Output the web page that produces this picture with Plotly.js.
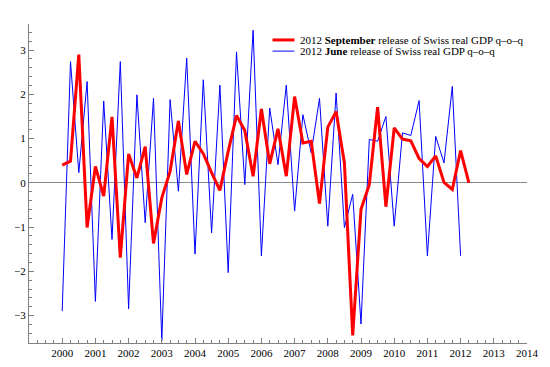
<!DOCTYPE html>
<html>
<head>
<meta charset="utf-8">
<script src="https://cdn.plot.ly/plotly-3.0.1.min.js"></script>
<style>
  html, body { margin: 0; padding: 0; background: #ffffff; }
  #chart { width: 550px; height: 367px; }
</style>
</head>
<body>
<div id="chart"></div>
<script>
// Quarterly data, first quarter = 2000 Q1
const startYear = 2000;

// 2012 June release of Swiss real GDP q-o-q (2000Q1 .. 2012Q1)
const juneRelease = [
  -2.90, 2.74, 0.23, 2.29,
  -2.68, 1.85, -1.28, 2.74,
  -2.85, 1.99, -0.90, 1.91,
  -3.57, 1.88, -0.19, 2.82,
  -1.61, 2.33, -1.13, 2.21,
  -2.03, 2.96, -0.04, 3.45,
  -1.65, 1.69, 0.41, 2.21,
  -0.64, 1.54, 0.68, 1.91,
  -0.98, 2.03, -1.01, -0.26,
  -3.19, 0.98, 0.94, 1.50,
  -0.98, 1.13, 1.07, 1.86,
  -1.65, 1.05, 0.45, 2.18,
  -1.65
];

// 2012 September release of Swiss real GDP q-o-q (2000Q1 .. 2012Q2)
const septemberRelease = [
  0.40, 0.49, 2.90, -1.01,
  0.37, -0.30, 1.49, -1.69,
  0.65, 0.11, 0.82, -1.37,
  -0.34, 0.26, 1.40, 0.19,
  0.94, 0.66, 0.23, -0.17,
  0.71, 1.52, 1.18, 0.15,
  1.67, 0.43, 1.22, 0.15,
  1.95, 0.90, 0.94, -0.47,
  1.26, 1.61, 0.45, -3.45,
  -0.60, -0.04, 1.71, -0.54,
  1.24, 0.99, 0.95, 0.55,
  0.37, 0.61, 0.01, -0.15,
  0.73, 0.00
];

const xTickYears = [2000, 2001, 2002, 2003, 2004, 2005, 2006, 2007, 2008, 2009, 2010, 2011, 2012, 2013, 2014];
const yTickValues = [-3, -2, -1, 0, 1, 2, 3];

const septemberLabel = '2012 <b>September</b> release of Swiss real GDP q\u2013o\u2013q';
const juneLabel = '2012 <b>June</b> release of Swiss real GDP q\u2013o\u2013q';

function quarterPositions(n) {
  const xs = [];
  for (let i = 0; i < n; i++) xs.push(startYear + i / 4);
  return xs;
}

const serif = 'Liberation Serif, Times New Roman, serif';

const traces = [
  {
    x: quarterPositions(juneRelease.length),
    y: juneRelease,
    type: 'scatter',
    mode: 'lines',
    name: juneLabel,
    line: { color: '#0000ff', width: 1 },
    showlegend: false
  },
  {
    x: quarterPositions(septemberRelease.length),
    y: septemberRelease,
    type: 'scatter',
    mode: 'lines',
    name: septemberLabel,
    line: { color: '#ff0000', width: 3 },
    showlegend: false
  }
];

const axisCommon = {
  showline: true,
  linecolor: '#7f7f7f',
  linewidth: 1,
  ticks: 'inside',
  tickcolor: '#7f7f7f',
  tickwidth: 1,
  ticklen: 5,
  showgrid: false,
  tickfont: { family: serif, size: 11, color: '#000000' }
};

const layout = {
  width: 550,
  height: 367,
  margin: { l: 29, r: 23, t: 24, b: 24 },
  paper_bgcolor: '#ffffff',
  plot_bgcolor: '#ffffff',
  font: { family: serif, size: 11, color: '#000000' },
  showlegend: false,
  xaxis: Object.assign({}, axisCommon, {
    range: [1999, 2014],
    tickmode: 'array',
    tickvals: xTickYears,
    ticktext: xTickYears.map(String),
    zeroline: false,
    minor: { dtick: 0.25, tick0: 1999, ticks: 'inside', ticklen: 3, tickcolor: '#7f7f7f', showgrid: false }
  }),
  yaxis: Object.assign({}, axisCommon, {
    range: [-3.62, 3.59],
    tickmode: 'array',
    tickvals: yTickValues,
    ticktext: yTickValues.map(v => v < 0 ? '\u2212' + Math.abs(v) : String(v)),
    zeroline: true,
    zerolinecolor: '#8c8c8c',
    zerolinewidth: 1,
    minor: { dtick: 0.2, tick0: 0, ticks: 'inside', ticklen: 3, tickcolor: '#7f7f7f', showgrid: false }
  }),
  shapes: [
    { type: 'line', xref: 'paper', yref: 'paper', x0: 0.489, x1: 0.533, y0: 0.950, y1: 0.950,
      line: { color: '#ff0000', width: 3 } },
    { type: 'line', xref: 'paper', yref: 'paper', x0: 0.489, x1: 0.533, y0: 0.915, y1: 0.915,
      line: { color: '#0000ff', width: 1 } }
  ],
  annotations: [
    { xref: 'paper', yref: 'paper', x: 0.540, y: 0.950, xanchor: 'left', yanchor: 'middle',
      text: septemberLabel, showarrow: false, font: { family: serif, size: 11, color: '#000000' } },
    { xref: 'paper', yref: 'paper', x: 0.540, y: 0.915, xanchor: 'left', yanchor: 'middle',
      text: juneLabel, showarrow: false, font: { family: serif, size: 11, color: '#000000' } }
  ]
};

Plotly.newPlot('chart', traces, layout, { displayModeBar: false, staticPlot: true });
</script>
</body>
</html>
